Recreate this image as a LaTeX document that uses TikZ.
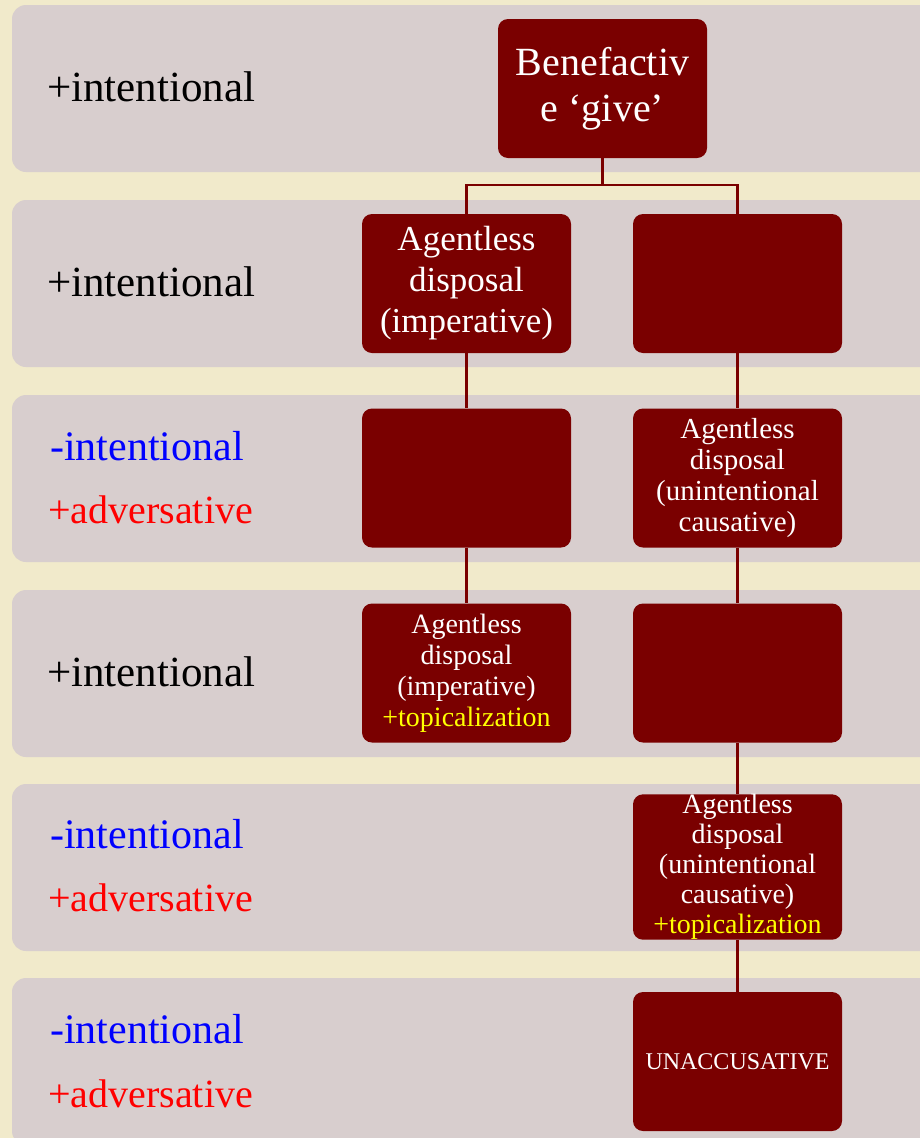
\documentclass[tikz,border=0pt]{standalone}
\usepackage{fontspec}
\setmainfont{Liberation Serif}
\definecolor{parch}{RGB}{241,234,203}
\definecolor{rowgray}{RGB}{216,206,206}
\definecolor{boxred}{RGB}{122,0,0}
\definecolor{lblue}{RGB}{0,0,255}
\definecolor{lred}{RGB}{255,0,0}
\definecolor{tyellow}{RGB}{255,255,0}
\begin{document}
\begin{tikzpicture}[x=1pt,y=-1pt,
  rowband/.style={fill=rowgray, rounded corners=14pt},
  redbox/.style={draw=none, fill=boxred, rounded corners=10pt, minimum width=209pt, minimum height=139pt, inner sep=0pt, text=white, align=center},
  link/.style={draw=boxred, line width=2.5pt},
  lbl/.style={anchor=base west, inner sep=0pt, font=\fontsize{43}{50}\selectfont},
  lblneg/.style={lbl, text=lblue, font=\fontsize{42}{50}\selectfont},
  lbladv/.style={lbl, text=lred, font=\fontsize{40}{48}\selectfont}
]
\useasboundingbox (0,0) rectangle (920,1138);
\clip (0,0) rectangle (920,1138);
\fill[parch] (0,0) rectangle (920,1138);
\foreach \t in {5,200,395,590,784,978}
  \fill[rowband] (12,\t) rectangle (960,\t+167);

% row labels
\node[lbl] (a1) at (47,101) {+intentional};
\node[lbl] (a2) at (47,296) {+intentional};
\node[lblneg] (a3) at (50,460) {-intentional};
\node[lbladv] (b3) at (48,523) {+adversative};
\node[lbl] (a4) at (47,686) {+intentional};
\node[lblneg] (a5) at (50,848) {-intentional};
\node[lbladv] (b5) at (48,911) {+adversative};
\node[lblneg] (a6) at (50,1043) {-intentional};
\node[lbladv] (b6) at (48,1107) {+adversative};

% boxes
\node[redbox, font=\fontsize{40}{46}\selectfont] (top) at (602.5,88.5) {Benefactiv\\e ‘give’};
\node[redbox, font=\fontsize{35}{41}\selectfont] (l2) at (466.5,283.5) {Agentless\\disposal\\(imperative)};
\node[redbox] (r2) at (737.5,283.5) {};
\node[redbox] (l3) at (466.5,478) {};
\node[redbox, font=\fontsize{29}{31}\selectfont] (r3) at (737.5,478) {Agentless\\disposal\\(unintentional\\causative)};
\node[redbox, font=\fontsize{28}{31}\selectfont] (l4) at (466.5,673) {Agentless\\disposal\\(imperative)\\\textcolor{tyellow}{+topicalization}};
\node[redbox] (r4) at (737.5,673) {};
\node[redbox, font=\fontsize{28}{30}\selectfont] (r5) at (737.5,867) {Agentless\\disposal\\(unintentional\\causative)\\\textcolor{tyellow}{+topicalization}};
\node[redbox, font=\fontsize{24}{28}\selectfont] (r6) at (737.5,1061.5) {UNACCUSATIVE};

% connectors
\draw[link] (top.south) -- ++(0,27) coordinate (j);
\draw[link] (l2.north) |- (j) -| (r2.north);
\draw[link] (l2.south) -- (l3.north);
\draw[link] (l3.south) -- (l4.north);
\draw[link] (r2.south) -- (r3.north);
\draw[link] (r3.south) -- (r4.north);
\draw[link] (r4.south) -- (r5.north);
\draw[link] (r5.south) -- (r6.north);
\end{tikzpicture}
\end{document}
